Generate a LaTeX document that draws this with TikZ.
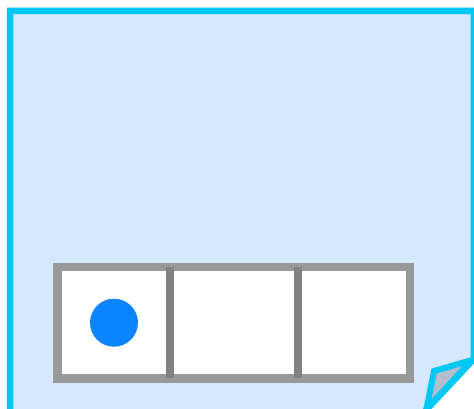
\documentclass[tikz,border=0pt]{standalone}
\definecolor{pagefill}{HTML}{D5E8FE}
\definecolor{pageline}{HTML}{00C8F5}
\definecolor{foldfill}{HTML}{B3BFCC}
\definecolor{boxline}{HTML}{999999}
\definecolor{divline}{HTML}{828282}
\definecolor{dotblue}{HTML}{0A84FF}
\tikzset{
  pagestyle/.style={fill=pagefill, draw=pageline, line width=6.5pt, line join=miter},
  foldstyle/.style={fill=foldfill, draw=pageline, line width=6pt, line join=miter},
  boxstyle/.style={fill=white, draw=boxline, line width=8.4pt},
  divstyle/.style={draw=divline, line width=8.2pt, line cap=butt},
}
\begin{document}
\begin{tikzpicture}[x=1pt, y=-1pt]
\useasboundingbox (0,0) rectangle (474,409);
\clip (0,0) rectangle (474,409);
% page
\draw[pagestyle] (10.2,416) -- (10.2,11) -- (473.8,11) -- (473.8,359) -- (426,410) -- (424,416) -- cycle;
% folded corner
\draw[foldstyle] (472,360) -- (434,371) -- (426.5,409) -- cycle;
% box with three cells
\draw[boxstyle] (57.6,267) rectangle (409.8,378.5);
\coordinate (d1t) at (170,266.7);
\coordinate (d1b) at (170,378.3);
\coordinate (d2t) at (297.8,266.7);
\coordinate (d2b) at (297.8,378.3);
\draw[divstyle] (d1t) -- (d1b);
\draw[divstyle] (d2t) -- (d2b);
% dot
\fill[dotblue] (114,322.7) circle (24);
\end{tikzpicture}
\end{document}
